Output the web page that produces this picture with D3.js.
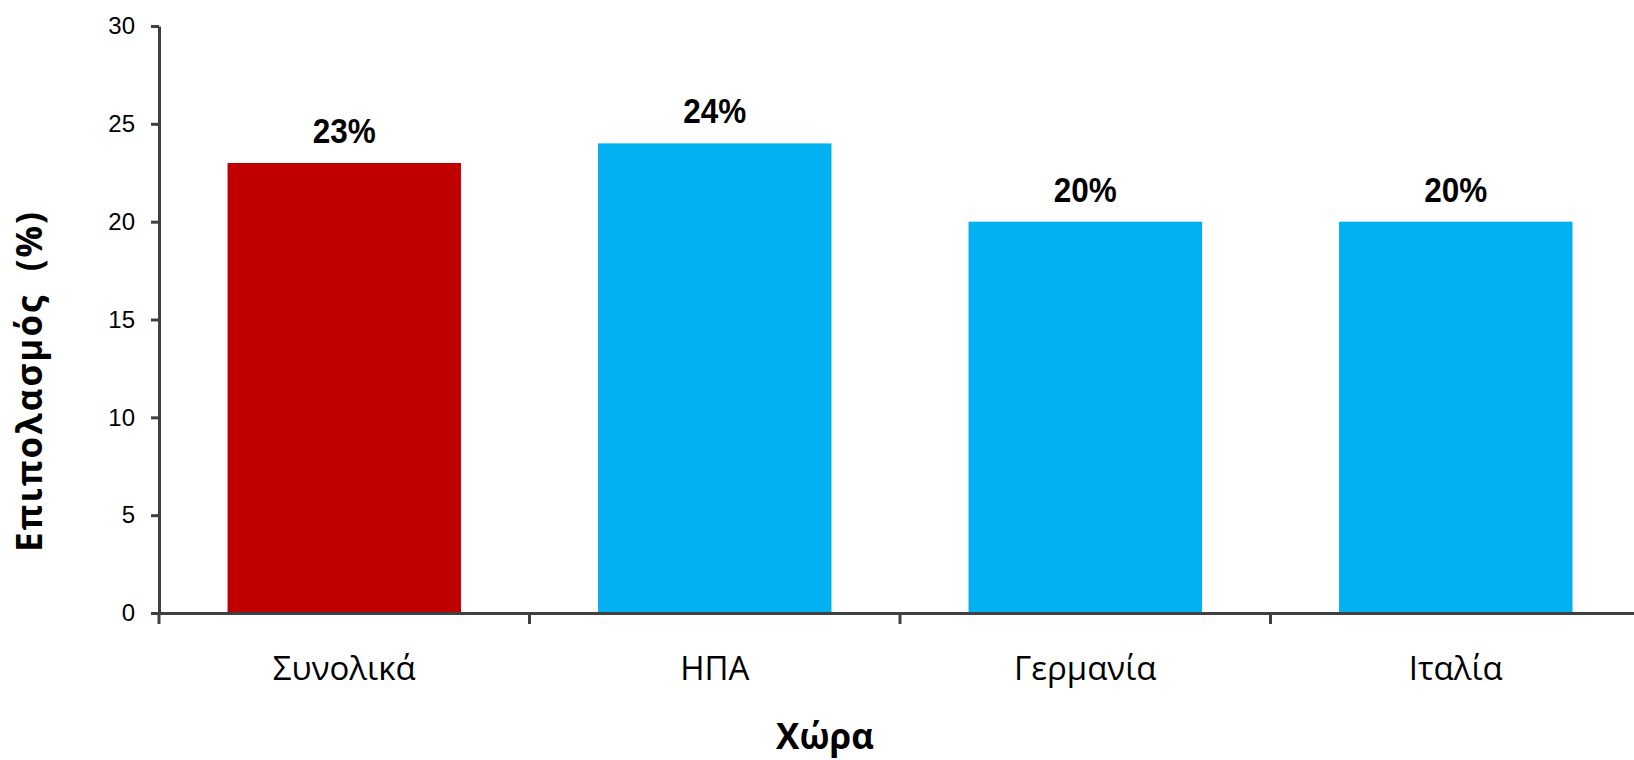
<!DOCTYPE html>
<html><head><meta charset="utf-8">
<script src="https://cdn.jsdelivr.net/npm/d3@7"></script>
<style>body{margin:0;background:#fff}</style>
</head><body>
<svg id="c" width="1634" height="760"></svg>
<script>
const categories = ["Συνολικά", "ΗΠΑ", "Γερμανία", "Ιταλία"];
const values = [23, 24, 20, 20];
const valueLabels = ["23%", "24%", "20%", "20%"];
const barColors = ["#C00000", "#00B0F0", "#00B0F0", "#00B0F0"];
const yTicks = [0, 5, 10, 15, 20, 25, 30];

(function () {
const svg = d3.select("#c");
const mLeft = 159, mRight = 1641, mTop = 26, mBottom = 613;
const x = d3.scaleBand().domain(categories).range([mLeft, mRight]).paddingInner(0.37).paddingOuter(0.185);
const y = d3.scaleLinear().domain([0, 30]).range([mBottom, mTop]);
const axisColor = "#404040";

// bars
svg.selectAll("rect.bar").data(values).enter().append("rect")
  .attr("x", (d, i) => x(categories[i]))
  .attr("y", d => y(d))
  .attr("width", x.bandwidth())
  .attr("height", d => y(0) - y(d))
  .attr("fill", (d, i) => barColors[i]);

// value labels
svg.selectAll("text.val").data(values).enter().append("text")
  .attr("x", (d, i) => x(categories[i]) + x.bandwidth() / 2)
  .attr("y", d => y(d) - 20)
  .attr("text-anchor", "middle")
  .attr("font-family", "Liberation Sans, Arial, sans-serif")
  .attr("font-weight", "bold")
  .attr("font-size", 35)
  .attr("textLength", 63)
  .attr("lengthAdjust", "spacingAndGlyphs")
  .attr("fill", "#000")
  .text((d, i) => valueLabels[i]);

// y axis
const yAxis = svg.append("g").attr("transform", `translate(${mLeft},0)`)
  .call(d3.axisLeft(y).tickValues(yTicks).tickSize(8).tickPadding(16).tickSizeOuter(0));
yAxis.select(".domain").attr("stroke", axisColor).attr("stroke-width", 3);
yAxis.selectAll(".tick line").attr("stroke", axisColor).attr("stroke-width", 3);
yAxis.selectAll(".tick text").attr("font-family", "Liberation Sans, Arial, sans-serif")
  .attr("font-size", 24).attr("fill", "#000");

// x axis
const xAxis = svg.append("g").attr("transform", `translate(0,${mBottom})`)
  .call(d3.axisBottom(x).tickSize(0).tickPadding(44).tickSizeOuter(0));
xAxis.select(".domain").attr("stroke", axisColor).attr("stroke-width", 3);
xAxis.selectAll(".tick text").attr("font-family", "Open Sans, sans-serif")
  .attr("font-size", 33).attr("fill", "#000");
// category boundary ticks
const bounds = categories.map(c => x(c) - x.step() * x.paddingInner() / 2);
bounds[0] = mLeft;
svg.append("g").selectAll("line").data(bounds).enter().append("line")
  .attr("x1", d => d).attr("x2", d => d)
  .attr("y1", mBottom).attr("y2", mBottom + 11)
  .attr("stroke", axisColor).attr("stroke-width", 3);

// axis titles
svg.append("text")
  .attr("transform", "translate(42,382) rotate(-90)")
  .attr("text-anchor", "middle")
  .attr("font-family", "Open Sans, sans-serif")
  .attr("font-weight", "bold").attr("font-size", 35)
  .attr("textLength", 340)
  .attr("lengthAdjust", "spacing")
  .style("white-space", "pre")
  .text("Επιπολασμός  (%)");
svg.append("text")
  .attr("x", 825).attr("y", 749)
  .attr("text-anchor", "middle")
  .attr("font-family", "Open Sans, sans-serif")
  .attr("font-weight", "bold").attr("font-size", 35)
  .text("Χώρα");
})();
</script>
</body></html>
